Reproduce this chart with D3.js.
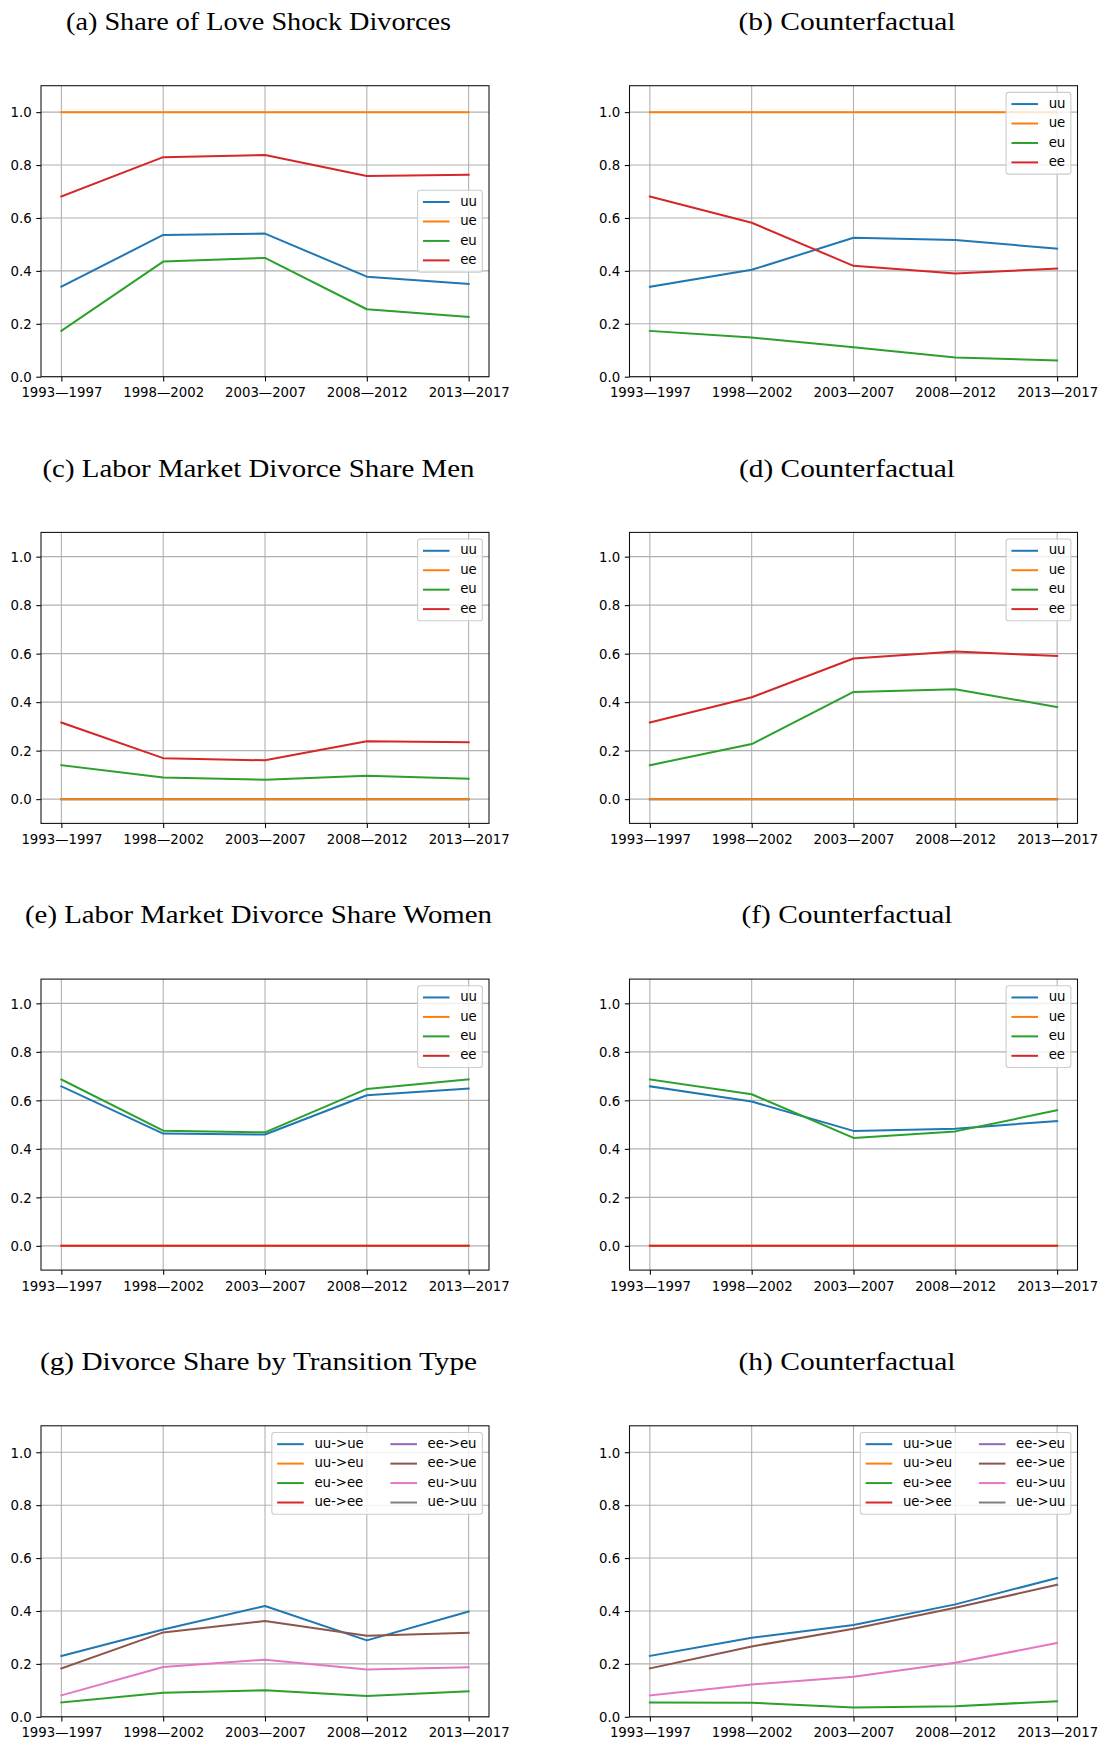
<!DOCTYPE html>
<html>
<head>
<meta charset="utf-8">
<script src="https://cdn.jsdelivr.net/npm/d3@7"></script>
<style>
  body { margin: 0; background: #fff; }
  svg { display: block; }
</style>
</head>
<body>
<svg id="fig" width="1103" height="1740"></svg>
<script>
// ---- data ----
const periods = ["1993—1997", "1998—2002", "2003—2007", "2008—2012", "2013—2017"];
const yTicks = [0.0, 0.2, 0.4, 0.6, 0.8, 1.0];

const stateLabels = ["uu", "ue", "eu", "ee"];
const transitionLabels = ["uu->ue", "uu->eu", "eu->ee", "ue->ee", "ee->eu", "ee->ue", "eu->uu", "ue->uu"];

const panelTitles = [
  "(a) Share of Love Shock Divorces",
  "(b) Counterfactual",
  "(c) Labor Market Divorce Share Men",
  "(d) Counterfactual",
  "(e) Labor Market Divorce Share Women",
  "(f) Counterfactual",
  "(g) Divorce Share by Transition Type",
  "(h) Counterfactual"
];

// (a) share of love shock divorces
const loveUU = [0.340, 0.536, 0.541, 0.378, 0.351];
const loveUE = [1.0, 1.0, 1.0, 1.0, 1.0];
const loveEU = [0.173, 0.435, 0.449, 0.255, 0.226];
const loveEE = [0.681, 0.830, 0.838, 0.759, 0.763];
// (b) counterfactual
const loveCfUU = [0.340, 0.404, 0.525, 0.517, 0.484];
const loveCfUE = [1.0, 1.0, 1.0, 1.0, 1.0];
const loveCfEU = [0.173, 0.148, 0.111, 0.073, 0.061];
const loveCfEE = [0.681, 0.582, 0.419, 0.390, 0.409];
// (c) labor market divorce share, men
const menUU = [0, 0, 0, 0, 0];
const menUE = [0, 0, 0, 0, 0];
const menEU = [0.140, 0.089, 0.080, 0.096, 0.084];
const menEE = [0.316, 0.169, 0.160, 0.239, 0.235];
// (d) counterfactual
const menCfUU = [0, 0, 0, 0, 0];
const menCfUE = [0, 0, 0, 0, 0];
const menCfEU = [0.140, 0.227, 0.442, 0.453, 0.380];
const menCfEE = [0.316, 0.420, 0.580, 0.609, 0.590];
// (e) labor market divorce share, women
const womenUU = [0.658, 0.463, 0.459, 0.621, 0.649];
const womenUE = [0, 0, 0, 0, 0];
const womenEU = [0.686, 0.475, 0.468, 0.647, 0.687];
const womenEE = [0, 0, 0, 0, 0];
// (f) counterfactual
const womenCfUU = [0.658, 0.595, 0.474, 0.483, 0.515];
const womenCfUE = [0, 0, 0, 0, 0];
const womenCfEU = [0.686, 0.625, 0.445, 0.472, 0.559];
const womenCfEE = [0, 0, 0, 0, 0];
// (g) divorce share by transition type (empty transitions have no observations)
const none5 = [null, null, null, null, null];
const transUUtoUE = [0.230, 0.330, 0.419, 0.289, 0.398];
const transUUtoEU = none5;
const transEUtoEE = [0.054, 0.091, 0.100, 0.079, 0.096];
const transUEtoEE = none5;
const transEEtoEU = none5;
const transEEtoUE = [0.183, 0.319, 0.362, 0.306, 0.318];
const transEUtoUU = [0.081, 0.188, 0.216, 0.179, 0.187];
const transUEtoUU = none5;
// (h) counterfactual
const transCfUUtoUE = [0.230, 0.299, 0.347, 0.425, 0.525];
const transCfUUtoEU = none5;
const transCfEUtoEE = [0.054, 0.053, 0.035, 0.040, 0.059];
const transCfUEtoEE = none5;
const transCfEEtoEU = none5;
const transCfEEtoUE = [0.183, 0.266, 0.333, 0.412, 0.499];
const transCfEUtoUU = [0.081, 0.122, 0.151, 0.204, 0.279];
const transCfUEtoUU = none5;

// ---- styling ----
const palette = ["#1f77b4", "#ff7f0e", "#2ca02c", "#d62728", "#9467bd", "#8c564b", "#e377c2", "#7f7f7f"];
const FS = 13.3;
const sansFont = "'DejaVu Sans', sans-serif";
const serifFont = "'Liberation Serif', 'DejaVu Serif', serif";
const titleWidths = [385, 217, 432, 216, 467, 211, 437, 217];

const panels = [
  { ylim: [0, 1.1], legend: "center right", ncol: 1, labels: stateLabels, values: [loveUU, loveUE, loveEU, loveEE] },
  { ylim: [0, 1.1], legend: "upper right", ncol: 1, labels: stateLabels, values: [loveCfUU, loveCfUE, loveCfEU, loveCfEE] },
  { ylim: [-0.1, 1.1], legend: "upper right", ncol: 1, labels: stateLabels, values: [menUU, menUE, menEU, menEE] },
  { ylim: [-0.1, 1.1], legend: "upper right", ncol: 1, labels: stateLabels, values: [menCfUU, menCfUE, menCfEU, menCfEE] },
  { ylim: [-0.1, 1.1], legend: "upper right", ncol: 1, labels: stateLabels, values: [womenUU, womenUE, womenEU, womenEE] },
  { ylim: [-0.1, 1.1], legend: "upper right", ncol: 1, labels: stateLabels, values: [womenCfUU, womenCfUE, womenCfEU, womenCfEE] },
  { ylim: [0, 1.1], legend: "upper right", ncol: 2, labels: transitionLabels,
    values: [transUUtoUE, transUUtoEU, transEUtoEE, transUEtoEE, transEEtoEU, transEEtoUE, transEUtoUU, transUEtoUU] },
  { ylim: [0, 1.1], legend: "upper right", ncol: 2, labels: transitionLabels,
    values: [transCfUUtoUE, transCfUUtoEU, transCfEUtoEE, transCfUEtoEE, transCfEEtoEU, transCfEEtoUE, transCfEUtoUU, transCfUEtoUU] }
];

// ---- layout ----
const columns = [[41, 489], [629.5, 1077.5]];
const firstTop = 85.7, rowStep = 446.7, axH = 291;

const svg = d3.select("#fig");
svg.append("rect").attr("width", 1103).attr("height", 1740).attr("fill", "#fff");
const defs = svg.append("defs");

function drawLegend(g, labels, colors, ncol, loc, box) {
  const em = FS;
  const pad = 0.4 * em, lsp = 0.5 * em, hl = 2 * em, htp = 0.8 * em, bap = 0.5 * em, csp = 2 * em;
  const rowH = 12.8;
  const nrow = Math.ceil(labels.length / ncol);
  const lg = g.append("g");
  const frame = lg.append("rect");
  const texts = labels.map(l => lg.append("text").text(l)
    .attr("font-family", sansFont).attr("font-size", FS).attr("fill", "#000").attr("dy", "0.27em"));
  const widths = texts.map(t => t.node().getComputedTextLength());
  const colW = [];
  for (let c = 0; c < ncol; c++) {
    const w = d3.max(widths.slice(c * nrow, (c + 1) * nrow)) || 0;
    colW.push(hl + htp + w);
  }
  const boxW = 2 * pad + d3.sum(colW) + csp * (ncol - 1);
  const boxH = 2 * pad + nrow * rowH + (nrow - 1) * lsp;
  const bx = box.x1 - bap - boxW;
  const by = loc === "upper right" ? box.top + bap : (box.top + box.bottom) / 2 - boxH / 2;
  frame.attr("x", bx).attr("y", by).attr("width", boxW).attr("height", boxH)
    .attr("rx", 2.7).attr("ry", 2.7)
    .attr("fill", "#fff").attr("fill-opacity", 0.8)
    .attr("stroke", "#cccccc").attr("stroke-width", 1.07);
  labels.forEach((l, k) => {
    const c = Math.floor(k / nrow), r = k % nrow;
    const cx = bx + pad + d3.sum(colW.slice(0, c)) + csp * c;
    const cy = by + pad + r * (rowH + lsp) + rowH / 2;
    lg.append("line").attr("x1", cx).attr("x2", cx + hl).attr("y1", cy).attr("y2", cy)
      .attr("stroke", colors[k]).attr("stroke-width", 2);
    texts[k].attr("x", cx + hl + htp).attr("y", cy).raise();
  });
}

panels.forEach((p, i) => {
  const col = i % 2, row = Math.floor(i / 2);
  const [x0, x1] = columns[col];
  const top = firstTop + rowStep * row, bottom = top + axH;

  const x = d3.scalePoint().domain(periods).range([x0, x1]).padding(0.2);
  const y = d3.scaleLinear().domain(p.ylim).range([bottom, top]);
  const g = svg.append("g");

  // title
  g.append("text")
    .attr("x", (x0 + x1) / 2 - 6.5).attr("y", top - 55.7)
    .attr("text-anchor", "middle")
    .attr("font-family", serifFont).attr("font-size", 25)
    .attr("textLength", titleWidths[i]).attr("lengthAdjust", "spacingAndGlyphs")
    .attr("fill", "#000")
    .text(panelTitles[i]);

  // grid
  g.append("g").selectAll("line").data(periods).join("line")
    .attr("x1", d => x(d)).attr("x2", d => x(d)).attr("y1", top).attr("y2", bottom)
    .attr("stroke", "#b0b0b0").attr("stroke-width", 1.07);
  g.append("g").selectAll("line").data(yTicks).join("line")
    .attr("x1", x0).attr("x2", x1).attr("y1", d => y(d)).attr("y2", d => y(d))
    .attr("stroke", "#b0b0b0").attr("stroke-width", 1.07);

  // series
  const clipId = "clip-" + i;
  defs.append("clipPath").attr("id", clipId).append("rect")
    .attr("x", x0).attr("y", top).attr("width", x1 - x0).attr("height", bottom - top);
  const line = d3.line()
    .defined(v => v != null)
    .x((v, k) => x(periods[k]))
    .y(v => y(v));
  const colors = p.labels.map((l, k) => palette[k]);
  p.values.forEach((vals, k) => {
    if (vals.every(v => v == null)) return;
    g.append("path").attr("d", line(vals))
      .attr("fill", "none").attr("stroke", colors[k]).attr("stroke-width", 2)
      .attr("stroke-linejoin", "round").attr("stroke-linecap", "square")
      .attr("clip-path", `url(#${clipId})`);
  });

  // axes
  const xAxis = g.append("g").attr("transform", `translate(0,${bottom})`)
    .call(d3.axisBottom(x).tickSize(4.7).tickSizeOuter(0).tickPadding(6.5));
  const yAxis = g.append("g").attr("transform", `translate(${x0},0)`)
    .call(d3.axisLeft(y).tickValues(yTicks).tickFormat(d3.format(".1f")).tickSize(4.7).tickSizeOuter(0).tickPadding(4.7));
  [xAxis, yAxis].forEach(a => {
    a.select(".domain").remove();
    a.selectAll(".tick line").attr("stroke", "#000").attr("stroke-width", 1.07);
    a.selectAll(".tick text").attr("font-family", sansFont).attr("font-size", FS).attr("fill", "#000");
  });
  yAxis.selectAll(".tick text").attr("dy", "0.36em");

  // spines
  g.append("rect").attr("x", x0).attr("y", top).attr("width", x1 - x0).attr("height", bottom - top)
    .attr("fill", "none").attr("stroke", "#111").attr("stroke-width", 1.07);

  drawLegend(g, p.labels, colors, p.ncol, p.legend, { x1, top, bottom });
});
</script>
</body>
</html>
